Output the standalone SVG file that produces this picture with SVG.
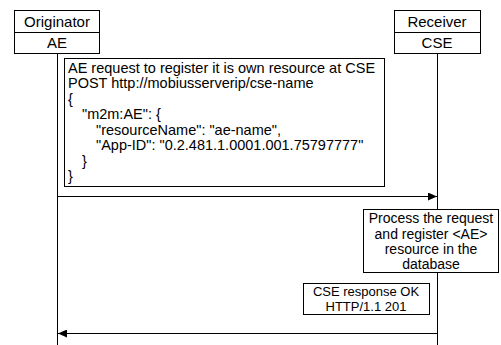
<svg xmlns="http://www.w3.org/2000/svg" width="501" height="345" viewBox="0 0 501 345">
  <style>
    .box { fill: #ffffff; stroke: #000000; stroke-width: 1; }
    .life { stroke: #000000; stroke-width: 1; fill: none; }
    .msg { stroke: #000000; stroke-width: 1; fill: none; }
    text { font-family: "Liberation Sans", Arial, sans-serif; font-size: 14.5px; fill: #000000; }
    .hd { font-size: 15px; }
    .nt { font-size: 14px; }
    .sm { font-size: 13px; }
    .c { text-anchor: middle; }
  </style>
  <defs>
    <marker id="arrow" markerWidth="9" markerHeight="8" refX="9" refY="4" orient="auto" markerUnits="userSpaceOnUse">
      <path d="M0,0 L9,4 L0,8 Z" fill="#000000"/>
    </marker>
  </defs>
  <rect width="501" height="345" fill="#ffffff"/>

  <!-- lifelines -->
  <g id="lifelines">
    <line class="life" x1="57.5" y1="53" x2="57.5" y2="345"/>
    <line class="life" x1="437.5" y1="53" x2="437.5" y2="345"/>
  </g>

  <g id="originator">
    <rect class="box" x="14.5" y="10.5" width="85" height="22"/>
    <rect class="box" x="14.5" y="32.5" width="85" height="21"/>
    <text class="c hd" x="57" y="27">Originator</text>
    <text class="c hd" x="57" y="48">AE</text>
  </g>

  <g id="receiver">
    <rect class="box" x="394.5" y="10.5" width="86" height="22"/>
    <rect class="box" x="394.5" y="32.5" width="86" height="21"/>
    <text class="c hd" x="437" y="27">Receiver</text>
    <text class="c hd" x="437" y="48">CSE</text>
  </g>

  <g id="request-note">
    <rect class="box" x="64.5" y="58.5" width="320" height="128"/>
    <text x="68" y="73">AE request to register it is own resource at CSE</text>
    <text x="68" y="88">POST http://mobiusserverip/cse-name</text>
    <text x="68" y="104">{</text>
    <text x="82" y="119">"m2m:AE": {</text>
    <text x="96" y="135">"resourceName": "ae-name",</text>
    <text x="96" y="150">"App-ID": "0.2.481.1.0001.001.75797777"</text>
    <text x="82" y="166">}</text>
    <text x="68" y="181">}</text>
  </g>

  <g id="process-note">
    <rect class="box" x="363.5" y="209.5" width="135" height="63"/>
    <text class="c nt" x="431" y="223">Process the request</text>
    <text class="c nt" x="431" y="239">and register &lt;AE&gt;</text>
    <text class="c nt" x="431" y="254">resource in the</text>
    <text class="c nt" x="431" y="269">database</text>
  </g>

  <g id="response-note">
    <rect class="box" x="303.5" y="283.5" width="126" height="31"/>
    <text class="c sm" x="366" y="296">CSE response OK</text>
    <text class="c sm" x="366" y="311">HTTP/1.1 201</text>
  </g>

  <g id="connectors">
    <line class="msg" x1="57.5" y1="196.5" x2="437" y2="196.5" marker-end="url(#arrow)"/>
    <line class="msg" x1="437.5" y1="333.5" x2="58" y2="333.5" marker-end="url(#arrow)"/>
  </g>
</svg>
